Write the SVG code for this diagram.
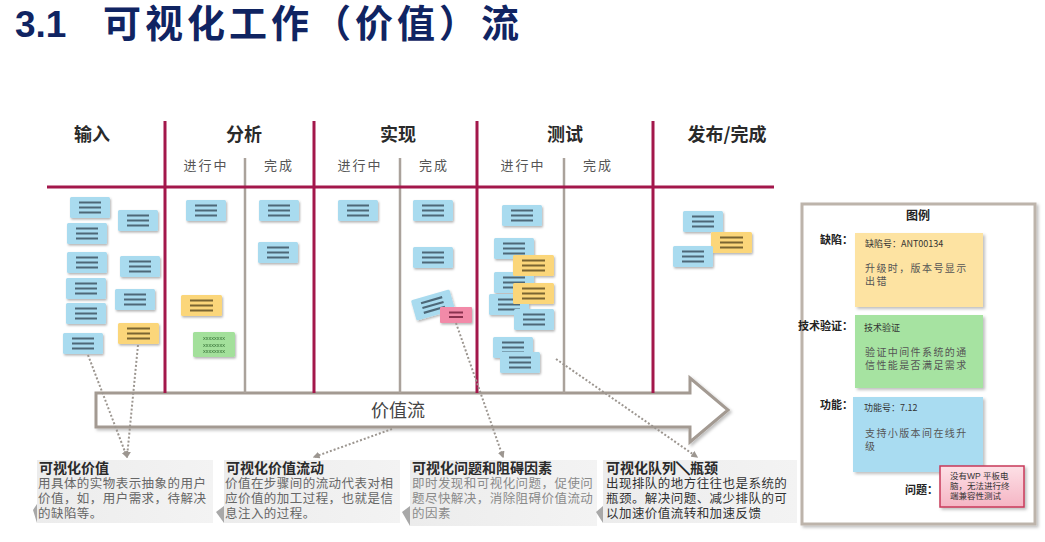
<svg xmlns="http://www.w3.org/2000/svg" xmlns:xlink="http://www.w3.org/1999/xlink" width="1045" height="542" viewBox="0 0 1045 542">
  <style>
    .title { font-family: "Liberation Sans", "Noto Sans CJK SC", sans-serif; font-weight: 700; fill: #102462; }
    .colhead { font-family: "Noto Sans CJK SC", sans-serif; font-weight: 700; font-size: 18px; fill: #2a2a2a; text-anchor: middle; }
    .subhead { font-family: "Noto Sans CJK SC", sans-serif; font-size: 13px; fill: #555; text-anchor: middle; letter-spacing: 2px; }
    .lane-main { stroke: #a3174b; stroke-width: 3; fill: none; }
    .lane-sub { stroke: #aaa29b; stroke-width: 2.5; fill: none; }
    .note-title { font-family: "Liberation Sans", "Noto Sans CJK SC", sans-serif; font-weight: 700; font-size: 14px; fill: #2a2a2a; }
    .note-body { font-family: "Liberation Sans", "Noto Sans CJK SC", sans-serif; font-size: 12.5px; letter-spacing: 0.45px; }
    .flow-label { font-family: "Noto Sans CJK SC", sans-serif; font-size: 18px; fill: #444; text-anchor: middle; }
    .dotted { stroke: #9c9690; stroke-width: 2; stroke-dasharray: 2 2; fill: none; marker-end: url(#dotHead); }
    .lg-label { font-family: "Noto Sans CJK SC", sans-serif; font-weight: 700; font-size: 11px; fill: #222; text-anchor: end; }
    .lg-small { font-family: "Noto Sans CJK SC", sans-serif; font-size: 9px; fill: #333; }
    .lg-text { font-family: "Noto Sans CJK SC", sans-serif; font-size: 10px; fill: #555; letter-spacing: 1.4px; }
    .pink-text { font-family: "Liberation Sans", "Noto Sans CJK SC", sans-serif; font-size: 8.5px; fill: #333; }
  </style>
  <defs>
    <filter id="cardShadow" x="-20%" y="-20%" width="150%" height="160%">
      <feDropShadow dx="1" dy="1.5" stdDeviation="0.8" flood-color="#000" flood-opacity="0.3"/>
    </filter>
    <filter id="softShadow" x="-10%" y="-10%" width="125%" height="130%">
      <feDropShadow dx="2" dy="2" stdDeviation="1.5" flood-color="#000" flood-opacity="0.25"/>
    </filter>
    <marker id="dotHead" viewBox="0 0 10 10" refX="8" refY="5" markerWidth="7" markerHeight="7" markerUnits="userSpaceOnUse" orient="auto">
      <path d="M0,0 L10,5 L0,10 Z" fill="#9c9690"/>
    </marker>
    <linearGradient id="noteBg" x1="0" y1="0" x2="1" y2="0">
      <stop offset="0" stop-color="#ececec"/>
      <stop offset="1" stop-color="#f3f3f3"/>
    </linearGradient>
    <linearGradient id="pinkBg" x1="0" y1="0" x2="0" y2="1">
      <stop offset="0" stop-color="#fde0e6"/>
      <stop offset="1" stop-color="#f5b5c4"/>
    </linearGradient>
    <!-- sticky card templates -->
    <g id="card-blue">
      <rect width="40" height="21" rx="1.5" fill="#a9dbef"/>
      <path d="M9,5.5 H31 M9,10.5 H31 M9,15.5 H31" stroke="#4e6878" stroke-width="2.2"/>
    </g>
    <g id="card-yellow">
      <rect width="41" height="21" rx="1.5" fill="#fbd67a"/>
      <path d="M9,5.5 H32 M9,10.5 H32 M9,15.5 H32" stroke="#7a6530" stroke-width="2.2"/>
    </g>
    <g id="card-green">
      <rect width="42" height="25" rx="1.5" fill="#a3e09b"/>
      <text x="21" y="8" font-family="Liberation Sans, sans-serif" font-size="5.5" fill="#2f6a30" text-anchor="middle">xxxxxxxx</text>
      <text x="21" y="14.5" font-family="Liberation Sans, sans-serif" font-size="5.5" fill="#2f6a30" text-anchor="middle">xxxxxxxx</text>
      <text x="21" y="21" font-family="Liberation Sans, sans-serif" font-size="5.5" fill="#2f6a30" text-anchor="middle">xxxxxxxx</text>
    </g>
    <g id="card-pink">
      <rect width="32" height="16" rx="1" fill="#f28aa8"/>
      <path d="M9,5.5 H23 M9,10 H23" stroke="#8a3050" stroke-width="2"/>
    </g>
  </defs>

  <rect width="1045" height="542" fill="#ffffff"/>

  <!-- heading -->
  <text class="title" x="15" y="37"><tspan font-size="37">3.1</tspan><tspan x="103" font-size="38" letter-spacing="4">可视化工作（价值）流</tspan></text>

  <!-- value stream arrow -->
  <g id="value-stream">
    <path d="M96,393 H690 V378 L728,410 L690,442 V427 H96 Z" fill="#ffffff" stroke="#a39a92" stroke-width="3" stroke-linejoin="miter" filter="url(#softShadow)"/>
    <text class="flow-label" x="398" y="417">价值流</text>
  </g>

  <!-- board lanes -->
  <g id="board">
    <path class="lane-sub" d="M245,158 V393 M400,158 V393 M564,158 V393"/>
    <path class="lane-main" d="M165,121 V393 M314,121 V393 M477,121 V393 M653,121 V393"/>
    <path class="lane-main" d="M47,187 H774"/>
    <text class="colhead" x="92" y="141">输入</text>
    <text class="colhead" x="244" y="141">分析</text>
    <text class="colhead" x="398" y="141">实现</text>
    <text class="colhead" x="565" y="141">测试</text>
    <text class="colhead" x="727" y="141">发布/完成</text>
    <text class="subhead" x="206" y="170">进行中</text>
    <text class="subhead" x="279" y="170">完成</text>
    <text class="subhead" x="360" y="170">进行中</text>
    <text class="subhead" x="434" y="170">完成</text>
    <text class="subhead" x="523" y="170">进行中</text>
    <text class="subhead" x="598" y="170">完成</text>
  </g>

  <!-- cards: input -->
  <g id="col-input" filter="url(#cardShadow)">
    <use id="in-1" xlink:href="#card-blue" x="70" y="197"/>
    <use id="in-2" xlink:href="#card-blue" x="67" y="223"/>
    <use id="in-3" xlink:href="#card-blue" x="67" y="252"/>
    <use id="in-4" xlink:href="#card-blue" x="66" y="278"/>
    <use id="in-5" xlink:href="#card-blue" x="66" y="303"/>
    <use id="in-6" xlink:href="#card-blue" x="63" y="333"/>
    <use id="in-7" xlink:href="#card-blue" x="118" y="210"/>
    <use id="in-8" xlink:href="#card-blue" x="120" y="256"/>
    <use id="in-9" xlink:href="#card-blue" x="115" y="289"/>
    <use id="in-10" xlink:href="#card-yellow" x="118" y="323"/>
  </g>

  <!-- cards: analysis -->
  <g id="col-analysis" filter="url(#cardShadow)">
    <use id="an-1" xlink:href="#card-blue" x="186" y="200"/>
    <use id="an-2" xlink:href="#card-yellow" x="181" y="295"/>
    <use id="an-3" xlink:href="#card-green" x="193" y="332"/>
    <use id="an-4" xlink:href="#card-blue" x="259" y="200"/>
    <use id="an-5" xlink:href="#card-blue" x="258" y="242"/>
  </g>

  <!-- cards: implementation -->
  <g id="col-impl" filter="url(#cardShadow)">
    <use id="im-1" xlink:href="#card-blue" x="338" y="200"/>
    <use id="im-2" xlink:href="#card-blue" x="413" y="200"/>
    <use id="im-3" xlink:href="#card-blue" x="413" y="247"/>
    <use id="im-4" xlink:href="#card-blue" transform="translate(433,305) rotate(-16) translate(-20,-10.5)"/>
    <use id="im-5" xlink:href="#card-pink" x="440" y="307"/>
  </g>

  <!-- cards: test -->
  <g id="col-test" filter="url(#cardShadow)">
    <use id="te-1" xlink:href="#card-blue" x="502" y="205"/>
    <use id="te-2" xlink:href="#card-blue" x="494" y="238"/>
    <use id="te-3" xlink:href="#card-blue" x="494" y="272"/>
    <use id="te-4" xlink:href="#card-blue" x="489" y="294"/>
    <use id="te-5" xlink:href="#card-yellow" x="513" y="255"/>
    <use id="te-6" xlink:href="#card-yellow" x="513" y="283"/>
    <use id="te-7" xlink:href="#card-blue" x="514" y="309"/>
    <use id="te-8" xlink:href="#card-blue" x="493" y="337"/>
    <use id="te-9" xlink:href="#card-blue" x="500" y="352"/>
  </g>

  <!-- cards: release -->
  <g id="col-release" filter="url(#cardShadow)">
    <use id="re-1" xlink:href="#card-blue" x="683" y="211"/>
    <use id="re-2" xlink:href="#card-yellow" x="711" y="232"/>
    <use id="re-3" xlink:href="#card-blue" x="673" y="246"/>
  </g>

  <!-- dotted call-out connectors -->
  <g id="connectors">
    <path class="dotted" d="M88,355 L127,457"/>
    <path class="dotted" d="M138,345 L127,457"/>
    <path class="dotted" d="M392,429 L314,457"/>
    <path class="dotted" d="M456,323 L503,457"/>
    <path class="dotted" d="M556,359 L697,457"/>
  </g>

  <!-- explanation notes -->
  <g id="note-value">
    <rect x="37" y="460" width="176" height="63" fill="url(#noteBg)"/>
    <path d="M33,510 L37,504 L37,523 Z" fill="#a8a8a8"/>
    <text class="note-title" x="39" y="473">可视化价值</text>
    <text class="note-body" fill="#666" x="38" y="488">用具体的实物表示抽象的用户</text>
    <text class="note-body" fill="#666" x="38" y="503">价值，如，用户需求，待解决</text>
    <text class="note-body" fill="#666" x="38" y="518">的缺陷等。</text>
  </g>
  <g id="note-flow">
    <rect x="224" y="460" width="176" height="63" fill="url(#noteBg)"/>
    <path d="M216,512 L224,506 L224,523 Z" fill="#a8a8a8"/>
    <text class="note-title" x="226" y="473">可视化价值流动</text>
    <text class="note-body" fill="#666" x="225" y="488">价值在步骤间的流动代表对相</text>
    <text class="note-body" fill="#666" x="225" y="503">应价值的加工过程，也就是信</text>
    <text class="note-body" fill="#666" x="225" y="518">息注入的过程。</text>
  </g>
  <g id="note-blockers">
    <rect x="410" y="460" width="187" height="66" fill="url(#noteBg)"/>
    <path d="M402,512 L410,506 L410,526 Z" fill="#a8a8a8"/>
    <text class="note-title" x="412" y="473">可视化问题和阻碍因素</text>
    <text class="note-body" fill="#8a8a8a" x="412" y="488">即时发现和可视化问题，促使问</text>
    <text class="note-body" fill="#8a8a8a" x="412" y="503">题尽快解决，消除阻碍价值流动</text>
    <text class="note-body" fill="#8a8a8a" x="412" y="518">的因素</text>
  </g>
  <g id="note-queue">
    <rect x="603" y="460" width="194" height="63" fill="url(#noteBg)"/>
    <path d="M596,512 L603,506 L603,523 Z" fill="#a8a8a8"/>
    <text class="note-title" x="606" y="473">可视化队列<tspan stroke="#2a2a2a" stroke-width="1">&#xFF3C;</tspan>瓶颈</text>
    <text class="note-body" fill="#333" x="606" y="488">出现排队的地方往往也是系统的</text>
    <text class="note-body" fill="#333" x="606" y="503">瓶颈。解决问题、减少排队的可</text>
    <text class="note-body" fill="#333" x="606" y="518">以加速价值流转和加速反馈</text>
  </g>

  <!-- legend -->
  <g id="legend">
    <rect x="802" y="204" width="233" height="320" fill="#ffffff" stroke="#bdb4ab" stroke-width="3" filter="url(#softShadow)"/>
    <text x="918" y="220" font-family="Noto Sans CJK SC, sans-serif" font-weight="700" font-size="12" fill="#222" text-anchor="middle">图例</text>

    <g id="legend-defect">
      <text class="lg-label" x="853" y="244">缺陷：</text>
      <rect x="855" y="233" width="128" height="74" fill="#fde3a2" filter="url(#softShadow)"/>
      <text class="lg-small" x="865" y="247">缺陷号：ANT00134</text>
      <text class="lg-text" x="865" y="272">升级时，版本号显示</text>
      <text class="lg-text" x="865" y="285">出错</text>
    </g>

    <g id="legend-spike">
      <text class="lg-label" x="853" y="330">技术验证：</text>
      <rect x="855" y="315" width="128" height="73" fill="#a6e3a1" filter="url(#softShadow)"/>
      <text class="lg-small" x="864" y="331">技术验证</text>
      <text class="lg-text" x="865" y="356">验证中间件系统的通</text>
      <text class="lg-text" x="865" y="369">信性能是否满足需求</text>
    </g>

    <g id="legend-feature">
      <text class="lg-label" x="853" y="409">功能：</text>
      <rect x="853" y="397" width="130" height="75" fill="#a9dcf1" filter="url(#softShadow)"/>
      <text class="lg-small" x="864" y="411">功能号：7.12</text>
      <text class="lg-text" x="865" y="437">支持小版本间在线升</text>
      <text class="lg-text" x="865" y="450">级</text>
    </g>

    <g id="legend-issue">
      <text class="lg-label" x="938" y="494">问题：</text>
      <rect x="940" y="466" width="84" height="41" fill="url(#pinkBg)" stroke="#c8385a" stroke-width="1.5" filter="url(#softShadow)"/>
      <text class="pink-text" x="950" y="479">没有WP 平板电</text>
      <text class="pink-text" x="950" y="489">脑，无法进行终</text>
      <text class="pink-text" x="950" y="499">端兼容性测试</text>
    </g>
  </g>
</svg>
